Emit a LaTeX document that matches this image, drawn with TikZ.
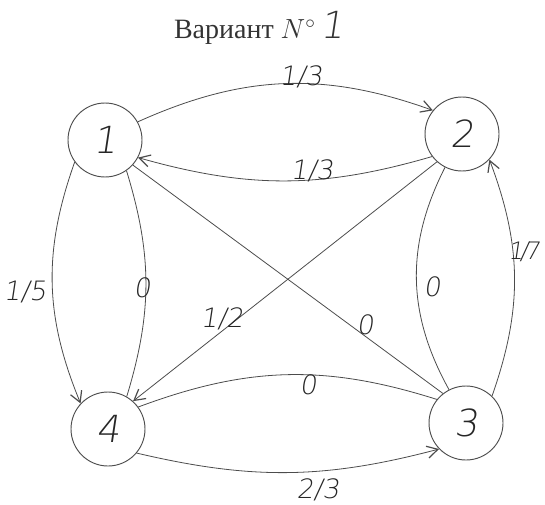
\documentclass[tikz,border=0pt]{standalone}
\usepackage{fontspec}
\setmainfont{Liberation Serif}
\newfontfamily\hand[FakeSlant=0.15]{DejaVu Sans ExtraLight}
\usetikzlibrary{arrows.meta}
\begin{document}
\begin{tikzpicture}[x=0.75pt,y=0.75pt,
  state/.style={circle,draw=black!70,line width=0.7pt,minimum size=55.5pt,inner sep=0pt,font=\hand\fontsize{28}{28}\selectfont,text=black!85},
  edge/.style={draw=black!70,line width=0.6pt},
  arr/.style={edge,-{Straight Barb[length=8pt,width=9pt,line width=0.9pt]}},
  lbl/.style={font=\hand\fontsize{20}{20}\selectfont,text=black!85,inner sep=0pt}]
\useasboundingbox (0,0) rectangle (545,504);
\node[text=black!80] (title) at (259,476) {\fontsize{21}{21}\selectfont Вариант $N^{\circ}$\,{\hand\fontsize{28}{28}\selectfont 1}};
\node[state] (n1) at (105,364) {1};
\node[state] (n2) at (462,370) {2};
\node[state] (n3) at (466,81) {3};
\node[state] (n4) at (108,75) {4};
\draw[arr] (n1.29) to[bend left=22] (n2.141);
\draw[arr] (n2.217) to[bend left=16] (n1.-28);
\draw[arr] (n1.216) to[bend right=21] (n4.137);
\draw[edge] (n1.-55) to[bend left=17] (n4.60);
\draw[edge] (n1.-42) -- (n3.128);
\draw[arr] (n2.228) -- (n4.48);
\draw[edge] (n2.243) to[bend right=28] (n3.117);
\draw[arr] (n3.46) to[bend right=20] (n2.-43);
\draw[arr] (n4.-40) to[bend right=14] (n3.224);
\draw[edge] (n4.36) to[bend left=19] (n3.141);
\node[lbl] (l12) at (301,427) {1/3};
\node[lbl] (l21) at (312,333) {1/3};
\node[lbl] (l14) at (25,212) {1/5};
\node[lbl] (l41) at (142,216) {0};
\node[lbl] (l24) at (222,185) {1/2};
\node[lbl] (l31) at (365,179) {0};
\node[lbl] (l23) at (432,217) {0};
\node[lbl,font=\hand\fontsize{18}{18}\selectfont] (l32) at (524,252) {1\kern-2.5pt/\kern-2.5pt7};
\node[lbl] (l34) at (308,119) {0};
\node[lbl] (l43) at (318,14) {2/3};
\end{tikzpicture}
\end{document}
